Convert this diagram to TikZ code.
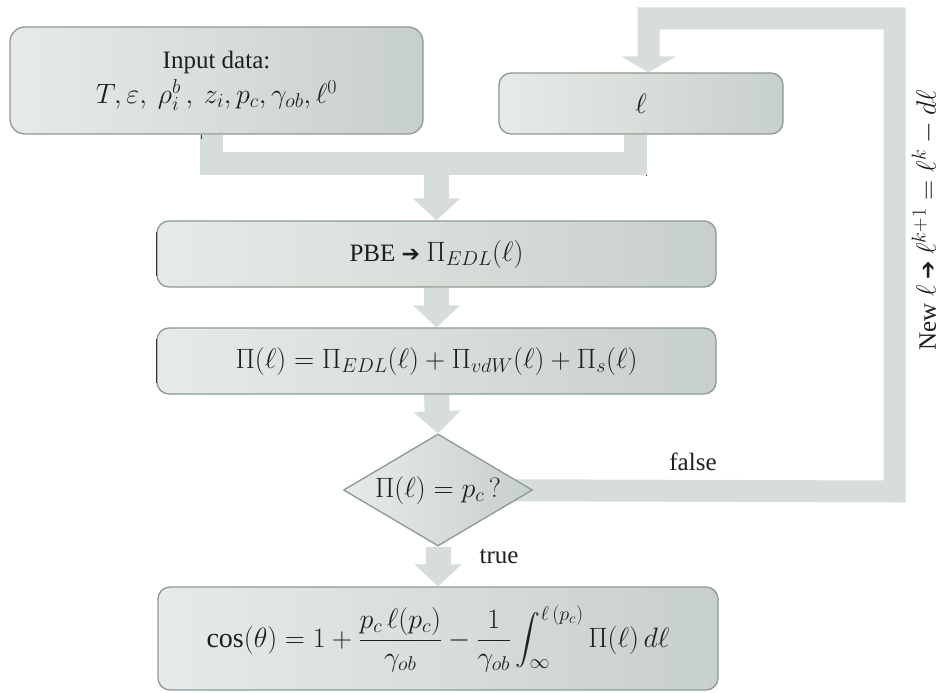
\RequirePackage{fix-cm}
\documentclass[tikz,border=0pt]{standalone}
\usepackage{amsmath,bm}
\usepackage{fontspec}
\setmainfont{Liberation Serif}
\newfontfamily\symfont{DejaVu Sans}
\DeclareMathSizes{25}{28}{20}{15}
\usetikzlibrary{arrows.meta,shapes.geometric,calc}

\definecolor{boxL}{HTML}{E7EBE8}
\definecolor{boxR}{HTML}{C8D0CB}
\definecolor{boxLine}{HTML}{8C9A91}
\definecolor{bandC}{HTML}{D7DDD9}
\definecolor{txt}{HTML}{1E1E24}

\newcommand{\heavyarrow}{{\symfont\fontsize{22}{22}\selectfont ➔}}

\pgfdeclarelayer{back}
\pgfsetlayers{back,main}

\begin{document}
\begin{tikzpicture}[x=1pt,y=-1pt,
  every node/.style={text=txt, font=\fontsize{25}{30}\selectfont},
  procbox/.style={draw=boxLine, line width=1.3pt, rounded corners=12pt,
    left color=boxL, right color=boxR, align=center, inner sep=0pt},
  decision/.style={diamond, draw=boxLine, line width=1.3pt,
    left color=boxL, right color=boxR, inner sep=0pt,
    minimum width=189pt, minimum height=112pt},
  band/.style={draw=bandC, line width=23pt, line join=miter},
  flowarrow/.style={draw=bandC, line width=25pt,
    -{Triangle[width=46pt,length=22pt]}},
  backarrow/.style={draw=bandC, line width=22pt, line join=miter,
    -{Triangle[width=54pt,length=16pt]}},
  tick/.style={draw=black!80, line width=1pt}
]
\useasboundingbox (0,0) rectangle (943,693);

% boxes of the flow
\node[procbox, minimum width=413pt, minimum height=107pt, rounded corners=15pt]
  (inp) at (216.5,80.5)
  {Input data:\\[5pt] $T, \varepsilon,\ \rho_i^b\,,\ z_i, p_c, \gamma_{ob}, \ell^0$};
\node[procbox, minimum width=284pt, minimum height=61pt] (ell) at (641,103.5) {$\ell$};
\node[procbox, minimum width=559pt, minimum height=66pt] (pbe) at (436.5,254)
  {PBE \heavyarrow\ $\Pi_{EDL}(\ell)$};
\node[procbox, minimum width=559pt, minimum height=66pt] (pis) at (436.5,361)
  {$\Pi(\ell) = \Pi_{EDL}(\ell) + \Pi_{vdW}(\ell) + \Pi_s(\ell)$};
\node[decision] (dia) at (438,490) {};
\node (diatext) at (dia.center) {$\Pi(\ell) = p_c\,?$};
\node[procbox, minimum width=560pt, minimum height=103pt] (fin) at (438,638.5)
  {$\displaystyle \cos(\theta) = 1 + \frac{p_c\,\ell(p_c)}{\gamma_{ob}}
   - \frac{1}{\gamma_{ob}}\int_{\infty}^{\ell\,(p_c)} \Pi(\ell)\,d\ell$};

% darker left edges
\draw[tick] ($(pbe.north west)+(0,12)$) -- ($(pbe.south west)+(0,-12)$);
\draw[tick] ($(pis.north west)+(0,12)$) -- ($(pis.south west)+(0,-12)$);

% labels
\node (lfalse) at (693,462) {false};
\node (ltrue) at (499,557) {true};
\node[rotate=90] (lnew) at (925,220)
  {New $\ell$ \heavyarrow\ $\ell^{k+1} = \ell^k - d\ell$};

% connectors
\coordinate (mergeL) at ($(inp.south)+(-5.5,0)$);
\coordinate (mergeR) at ($(ell.south)+(-5.5,0)$);
\coordinate (fbA) at (894.5,491.5);
\coordinate (fbB) at (894.5,18.5);
\coordinate (fbC) at ($(ell.north)+(7.5,-85)$);
\coordinate (fbD) at ($(ell.north)+(7.5,0)$);
\begin{pgfonlayer}{back}
  \draw[band] (mergeL) |- (mergeR |- 0,163.5) -- (mergeR);
  \draw[flowarrow] (pbe.north |- 0,152) -- (pbe.north);
  \draw[flowarrow] (pbe.south) -- (pis.north);
  \draw[flowarrow] (pis.south) -- (dia.north);
  \draw[flowarrow] (dia.south) -- (fin.north);
  \draw[backarrow] (dia.center) -- (fbA) -- (fbB) -- (fbC |- fbB) -- (fbD);
\end{pgfonlayer}
\draw[tick] ($(mergeL)+(-10,0)$) -- ++(0,4);
\draw[tick] ($(mergeR)+(10.5,40)$) -- ++(0,1.5);
\end{tikzpicture}
\end{document}
